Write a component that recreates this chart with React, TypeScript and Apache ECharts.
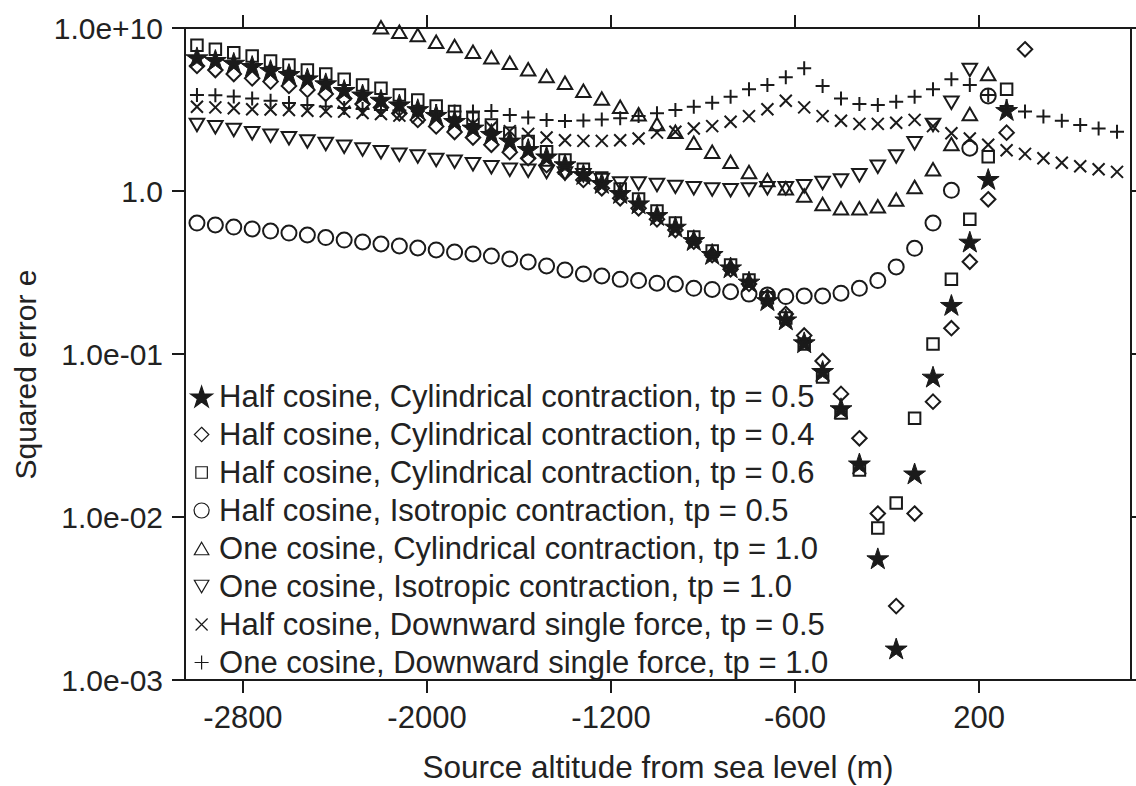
import React, { useEffect, useRef } from 'react';
import * as echarts from 'echarts';

// Tick marks sit between samples; labels as printed on the axis.
const X_TICK_POSITIONS = [2.5, 12.5, 22.5, 32.5, 42.5];
const X_TICK_LABELS = ['-2800', '-2000', '-1200', '-600', '200'];
const X_MIN = -0.65;
const X_MAX = 50.76;

const Y_TICK_EXPONENTS = [-3, -2, -1, 0, 1];
const Y_TICK_LABELS = ['1.0e-03', '1.0e-02', '1.0e-01', '1.0', '1.0e+10'];

const SERIES_NAMES = [
  'Half cosine, Cylindrical contraction, tp = 0.5',
  'Half cosine, Cylindrical contraction, tp = 0.4',
  'Half cosine, Cylindrical contraction, tp = 0.6',
  'Half cosine, Isotropic contraction, tp = 0.5',
  'One cosine, Cylindrical contraction, tp = 1.0',
  'One cosine, Isotropic contraction, tp = 1.0',
  'Half cosine, Downward single force, tp = 0.5',
  'One cosine, Downward single force, tp = 1.0',
];

// Squared error per source position (one entry per sample, null = not plotted)
const HALF_CYL_05 = [
  6.61, 6.37, 6.12, 5.85, 5.52, 5.22, 4.91, 4.58, 4.17, 3.91,
  3.63, 3.4, 3.18, 2.93, 2.69, 2.45, 2.24, 2.04, 1.81, 1.63,
  1.46, 1.27, 1.12, 0.972, 0.84, 0.712, 0.604, 0.5, 0.411, 0.34,
  0.278, 0.214, 0.163, 0.118, 0.0787, 0.0465, 0.0213, 0.00558, 0.00156, 0.0185,
  0.0726, 0.2, 0.489, 1.185, 3.14, null, null, null, null, null,
  null,
];

const HALF_CYL_04 = [
  5.85, 5.52, 5.22, 4.91, 4.69, 4.41, 4.17, 3.94, 3.7, 3.42,
  3.25, 3.0, 2.73, 2.49, 2.3, 2.13, 1.92, 1.73, 1.59, 1.44,
  1.3, 1.17, 1.04, 0.902, 0.783, 0.67, 0.576, 0.489, 0.405, 0.331,
  0.269, 0.224, 0.176, 0.13, 0.0906, 0.0569, 0.0304, 0.0105, 0.00284, 0.0105,
  0.051, 0.144, 0.368, 0.889, 2.28, 7.4, null, null, null, null,
  null,
];

const HALF_CYL_06 = [
  7.83, 7.4, 7.05, 6.73, 6.28, 5.93, 5.52, 5.22, 4.84, 4.47,
  4.27, 3.88, 3.62, 3.32, 3.07, 2.79, 2.54, 2.26, 2.01, 1.74,
  1.55, 1.36, 1.2, 1.03, 0.893, 0.754, 0.636, 0.522, 0.428, 0.352,
  0.284, 0.221, 0.166, 0.115, 0.0722, 0.0435, 0.0194, 0.00857, 0.0122, 0.0403,
  0.115, 0.287, 0.67, 1.62, 4.21, null, null, null, null, null,
  null,
];

const HALF_ISO_05 = [
  0.636, 0.619, 0.601, 0.585, 0.568, 0.552, 0.537, 0.518, 0.5, 0.487,
  0.473, 0.46, 0.447, 0.435, 0.422, 0.411, 0.399, 0.383, 0.367, 0.347,
  0.328, 0.31, 0.301, 0.287, 0.282, 0.272, 0.269, 0.253, 0.249, 0.241,
  0.233, 0.23, 0.225, 0.227, 0.227, 0.236, 0.253, 0.282, 0.342, 0.445,
  0.636, 1.01, 1.83, 3.83, null, null, null, null, null, null,
  null,
];

const ONE_CYL_10 = [
  null, null, null, null, null, null, null, null, null, null,
  10.1, 9.49, 9.06, 8.24, 7.76, 7.16, 6.61, 6.12, 5.58, 5.08,
  4.62, 4.12, 3.7, 3.29, 2.96, 2.58, 2.31, 1.98, 1.74, 1.51,
  1.31, 1.17, 1.04, 0.938, 0.832, 0.783, 0.783, 0.806, 0.887, 1.06,
  1.36, 1.94, 2.97, 5.22, null, null, null, null, null, null,
  null,
];

const ONE_ISO_10 = [
  2.54, 2.46, 2.37, 2.26, 2.18, 2.11, 2.01, 1.94, 1.87, 1.8,
  1.73, 1.67, 1.63, 1.55, 1.51, 1.46, 1.4, 1.35, 1.33, 1.31,
  1.28, 1.25, 1.17, 1.11, 1.11, 1.09, 1.06, 1.04, 1.02, 1.01,
  1.02, 1.04, 1.04, 1.07, 1.12, 1.16, 1.25, 1.41, 1.63, 1.96,
  2.54, 3.48, 5.52, null, null, null, null, null, null, null,
  null,
];

const HALF_DOWN_05 = [
  3.29, 3.26, 3.22, 3.17, 3.16, 3.14, 3.11, 3.08, 3.07, 3.01,
  2.97, 2.9, 2.84, 2.77, 2.67, 2.58, 2.47, 2.33, 2.24, 2.13,
  2.05, 2.03, 2.03, 2.05, 2.1, 2.28, 2.31, 2.42, 2.5, 2.66,
  2.88, 3.17, 3.58, 3.26, 2.88, 2.7, 2.58, 2.58, 2.62, 2.73,
  2.5, 2.26, 2.1, 1.92, 1.78, 1.69, 1.59, 1.49, 1.42, 1.36,
  1.31,
];

const ONE_DOWN_10 = [
  3.88, 3.87, 3.8, 3.7, 3.58, 3.47, 3.37, 3.3, 3.23, 3.18,
  3.14, 3.12, 3.1, 3.1, 3.07, 3.07, 3.1, 2.93, 2.82, 2.73,
  2.69, 2.71, 2.75, 2.79, 2.88, 3.0, 3.14, 3.29, 3.48, 3.79,
  4.21, 4.47, 4.99, 5.66, 4.41, 3.7, 3.42, 3.37, 3.53, 3.79,
  4.21, 4.84, 4.47, 3.88, 3.32, 3.07, 2.86, 2.7, 2.54, 2.42,
  2.31,
];

// Marker outlines on a shared 100x100 frame, so every symbol keeps its own size
const FRAME = 'path://M0 0 M100 100 ';
const STAR = FRAME + 'M50 8.4 L60.3 40.2 L93.7 40.2 L66.7 59.8 L77 91.6 L50 72 L23 91.6 L33.3 59.8 L6.3 40.2 L39.7 40.2 Z';
const DIAMOND = FRAME + 'M50 21 L79 50 L50 79 L21 50 Z';
const SQUARE = FRAME + 'M27 27 L73 27 L73 73 L27 73 Z';
const CIRCLE = FRAME + 'M20 50 A30 30 0 1 1 80 50 A30 30 0 1 1 20 50 Z';
const TRI_UP = FRAME + 'M50 25 L79 75 L21 75 Z';
const TRI_DOWN = FRAME + 'M21 25 L79 25 L50 75 Z';
const CROSS = FRAME + 'M26 26 L74 74 M74 26 L26 74';
const PLUS = FRAME + 'M50 22 L50 78 M22 50 L78 50';

const INK = '#1a1a1a';
const TEXT = '#222222';
const FONT = '"Liberation Sans", Arial, Helvetica, sans-serif';
const SYMBOL_FRAME = 25;

const SERIES = [
  { name: SERIES_NAMES[0], values: HALF_CYL_05, symbol: STAR, filled: true },
  { name: SERIES_NAMES[1], values: HALF_CYL_04, symbol: DIAMOND, filled: false },
  { name: SERIES_NAMES[2], values: HALF_CYL_06, symbol: SQUARE, filled: false },
  { name: SERIES_NAMES[3], values: HALF_ISO_05, symbol: CIRCLE, filled: false },
  { name: SERIES_NAMES[4], values: ONE_CYL_10, symbol: TRI_UP, filled: false },
  { name: SERIES_NAMES[5], values: ONE_ISO_10, symbol: TRI_DOWN, filled: false },
  { name: SERIES_NAMES[6], values: HALF_DOWN_05, symbol: CROSS, filled: false },
  { name: SERIES_NAMES[7], values: ONE_DOWN_10, symbol: PLUS, filled: false },
];

const toPoints = (values: (number | null)[]) =>
  values
    .map((v, i) => (v == null ? null : [i, v]))
    .filter((p) => p !== null) as number[][];

const xLabel = (v: number) => {
  const k = X_TICK_POSITIONS.findIndex((p) => Math.abs(p - v) < 1e-6);
  return k >= 0 ? X_TICK_LABELS[k] : '';
};

const yLabel = (v: number) => {
  const e = Math.round(Math.log10(v));
  const k = Y_TICK_EXPONENTS.indexOf(e);
  return k >= 0 ? Y_TICK_LABELS[k] : '';
};

const axisLine = { show: true, onZero: false, lineStyle: { color: INK, width: 2 } };
const axisTick = { show: true, inside: false, length: 13, lineStyle: { color: INK, width: 2 } };

const option: any = {
  animation: false,
  backgroundColor: '#ffffff',
  grid: { left: 185, right: 5, top: 28, bottom: 106, containLabel: false, outerBoundsMode: 'none' },
  xAxis: [
    {
      type: 'value',
      position: 'bottom',
      min: X_MIN,
      max: X_MAX,
      axisLine,
      axisTick: { ...axisTick, customValues: X_TICK_POSITIONS },
      axisLabel: {
        customValues: X_TICK_POSITIONS,
        formatter: xLabel,
        fontSize: 31,
        fontFamily: FONT,
        color: TEXT,
        margin: 22,
      },
      splitLine: { show: false },
      name: 'Source altitude from sea level (m)',
      nameLocation: 'middle',
      nameGap: 71,
      nameTextStyle: { fontSize: 31.5, fontFamily: FONT, color: TEXT },
    },
    {
      type: 'value',
      position: 'top',
      min: X_MIN,
      max: X_MAX,
      axisLine,
      axisTick: { ...axisTick, customValues: X_TICK_POSITIONS },
      axisLabel: { show: false, customValues: X_TICK_POSITIONS },
      splitLine: { show: false },
    },
  ],
  yAxis: [
    {
      type: 'log',
      logBase: 10,
      position: 'left',
      min: 0.001,
      max: 10,
      axisLine,
      axisTick,
      minorTick: { show: false },
      axisLabel: { formatter: yLabel, fontSize: 30, fontFamily: FONT, color: TEXT, margin: 22 },
      splitLine: { show: false },
      name: 'Squared error e',
      nameLocation: 'middle',
      nameGap: 145,
      nameTextStyle: { fontSize: 30, fontFamily: FONT, color: TEXT, padding: [0, 41, 0, 0] },
    },
    {
      type: 'log',
      logBase: 10,
      position: 'right',
      min: 0.001,
      max: 10,
      axisLine,
      axisTick,
      minorTick: { show: false },
      axisLabel: { show: false },
      splitLine: { show: false },
    },
  ],
  legend: {
    orient: 'vertical',
    left: 188.5,
    top: 381,
    padding: 0,
    itemGap: 7,
    itemWidth: SYMBOL_FRAME,
    itemHeight: SYMBOL_FRAME,
    selectedMode: false,
    itemStyle: { borderWidth: 1.2, opacity: 1 },
    textStyle: { fontSize: 31, lineHeight: 31, fontFamily: FONT, color: TEXT },
    data: SERIES.map((s) => ({ name: s.name, icon: s.symbol })),
  },
  series: SERIES.map((s) => ({
    type: 'scatter',
    name: s.name,
    xAxisIndex: 0,
    yAxisIndex: 0,
    data: toPoints(s.values),
    symbol: s.symbol,
    symbolSize: SYMBOL_FRAME,
    clip: false,
    itemStyle: {
      color: s.filled ? INK : 'rgba(0,0,0,0)',
      borderColor: INK,
      borderWidth: s.filled ? 1 : 2,
      opacity: 1,
    },
    emphasis: { disabled: true },
  })),
};

export default function App() {
  const ref = useRef<HTMLDivElement>(null);
  useEffect(() => {
    if (!ref.current) return;
    const chart = echarts.init(ref.current, null, { renderer: 'svg' });
    chart.setOption(option);
    return () => chart.dispose();
  }, []);
  return (
    <div
      ref={ref}
      style={{ position: 'fixed', left: 0, top: 0, width: 1136, height: 786, background: '#ffffff' }}
    />
  );
}
